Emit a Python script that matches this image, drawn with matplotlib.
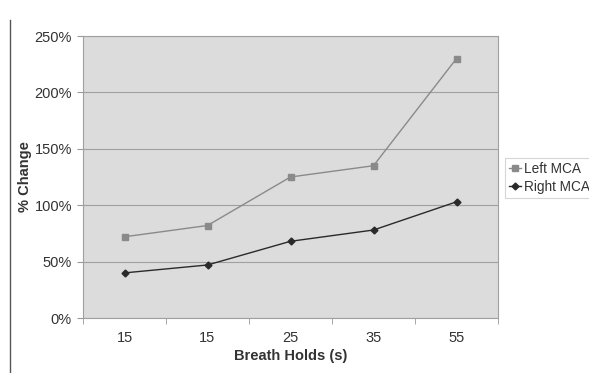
import matplotlib
matplotlib.use("Agg")
import matplotlib.pyplot as plt
from matplotlib.lines import Line2D

categories = ["15", "15", "25", "35", "55"]
left_mca = [72, 82, 125, 135, 230]
right_mca = [40, 47, 68, 78, 103]
y_ticks = [0, 50, 100, 150, 200, 250]

plt.rcParams['font.family'] = ['Liberation Sans', 'DejaVu Sans']

fig = plt.figure(figsize=(5.89, 3.73), dpi=100)
fig.patch.set_facecolor('white')
ax = fig.add_axes([83/589, 55/373, 415/589, 282/373])
ax.set_facecolor('#dcdcdc')

x = list(range(len(categories)))
ax.plot(x, left_mca, color='#8a8a8a', lw=1.0, marker='s', ms=4.5,
        mfc='#8a8a8a', mec='#8a8a8a', label='Left MCA', zorder=3)
ax.plot(x, right_mca, color='#2a2a2a', lw=1.0, marker='D', ms=3.5,
        mfc='#2a2a2a', mec='#2a2a2a', label='Right MCA', zorder=3)

ax.set_xlim(-0.5, len(categories) - 0.5)
ax.set_ylim(0, 250)
ax.set_yticks(y_ticks)
ax.set_yticklabels([f"{v}%" for v in y_ticks], fontsize=10.5, color='#333333')
ax.set_xticks(x)
ax.set_xticklabels(categories, fontsize=10.5, color='#333333')
ax.tick_params(axis='x', length=0, pad=9)
ax.tick_params(axis='y', length=4, color='#999999', pad=4)
ax.set_xticks([i + 0.5 for i in range(-1, len(categories))], minor=True)
ax.tick_params(axis='x', which='minor', length=4, color='#999999')

ax.yaxis.grid(True, color='#a0a0a0', lw=0.8)
ax.set_axisbelow(True)
for s in ax.spines.values():
    s.set_color('#a0a0a0')
    s.set_linewidth(0.8)

ax.set_xlabel('Breath Holds (s)', fontsize=10.5, fontweight='bold', color='#333333', labelpad=3)
ax.set_ylabel('% Change', fontsize=10.5, fontweight='bold', color='#333333', labelpad=2)

leg = ax.legend(loc='center left', bbox_to_anchor=(505/589, 1 - 178/373),
                bbox_transform=fig.transFigure, frameon=True,
                fontsize=9.8, handlelength=0.9, borderpad=0.3, labelspacing=0.3,
                handletextpad=0.2, borderaxespad=0.0)
leg.get_frame().set_edgecolor('#cccccc')
leg.get_frame().set_linewidth(0.8)
leg.get_frame().set_boxstyle('square', pad=0)
for t in leg.get_texts():
    t.set_color('#333333')

fig.add_artist(Line2D([10/589, 10/589], [0, 1 - 20/373], color='#555555', lw=1.0,
                      transform=fig.transFigure))

fig.savefig('out.png', dpi=100)
